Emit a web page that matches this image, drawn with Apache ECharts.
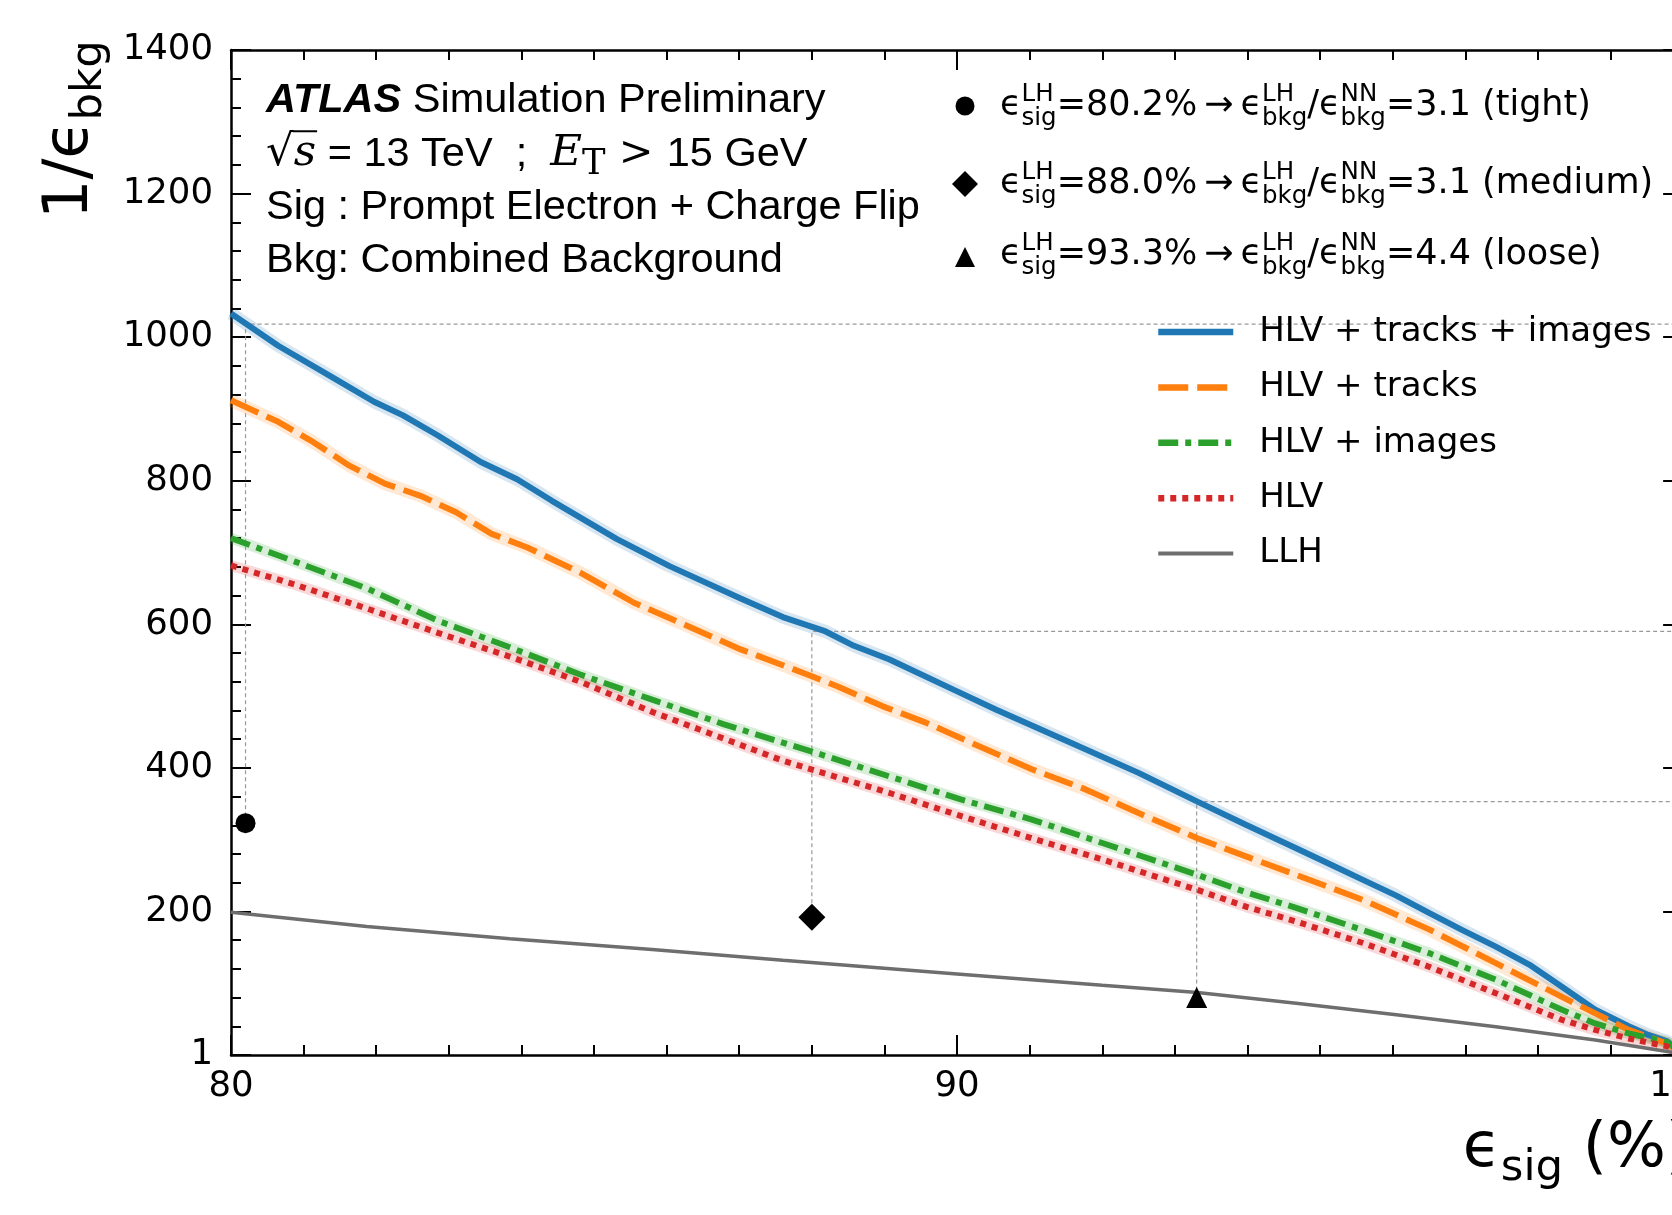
<!DOCTYPE html>
<html><head><meta charset="utf-8">
<script src="https://cdn.jsdelivr.net/npm/echarts@6/dist/echarts.min.js"></script>
<style>html,body{margin:0;padding:0;overflow:hidden;background:#fff}#c{width:1720px;height:1215px}</style>
</head><body><div id="c"></div>
<script>
// ---------------- data ----------------
const xTickValues = [80, 90, 100];
const yTickLabels = ['1', '200', '400', '600', '800', '1000', '1200', '1400'];

const effBlue = [80,80.65,81.38,81.97,82.37,82.85,83.44,83.94,84.42,85.31,86.04,87.02,87.6,88.19,88.58,89.07,89.95,90.54,91.52,92.5,93.31,93.97,94.67,95.13,95.59,96.05,96.5,96.96,97.42,97.88,98.33,98.79,99.25,99.52,99.78,100];
const rejBlue = [1033,988,945,910,891,863,826,802,772,719,681,636,610,590,570,551,509,481,437,393,353,321,288,266,244,222,198,174,151,126,95,63,40,28,19,1];

const effOrange = [80,80.65,81.13,81.63,82.12,82.61,83.1,83.59,84.08,84.81,85.55,86.28,87.02,87.6,87.99,88.34,88.97,89.57,90.35,91.03,91.77,92.5,93.31,93.97,94.67,95.59,96.5,97.42,98.33,98.79,99.25,99.78,100];
const rejOrange = [912,882,854,821,796,779,756,726,707,672,630,598,565,543,528,514,486,463,428,398,370,337,302,277,251,216,175,128,81,58,35,16,1];

const effGreen = [80,80.89,81.87,82.85,83.84,84.81,85.8,86.78,87.6,87.99,89.07,90.05,91.03,92.01,93.31,94.0,94.67,95.59,96.5,97.42,98.33,98.79,99.25,99.78,100];
const rejGreen = [720,687,650,605,568,530,495,461,435,423,388,356,328,295,251,226,205,174,142,105,63,44,30,18,1];

const effRed = [80,80.89,81.87,82.85,83.84,84.81,85.8,86.78,87.6,87.99,89.07,90.05,91.03,92.01,93.31,94.0,94.67,95.59,96.5,97.42,98.33,98.79,99.25,99.78,100];
const rejRed = [682,655,622,588,555,520,478,441,410,398,365,333,302,272,230,206,186,156,123,86,49,35,23,12,1];

const effLLH = [80,81.87,83.84,85.8,87.6,90,92,93.31,94.67,96.05,97.42,98.79,99.78,100];
const rejLLH = [199,179,162,147,132,113,97,87,72,56,39.5,21,5,1];

const seriesNames = ['HLV + tracks + images', 'HLV + tracks', 'HLV + images', 'HLV', 'LLH'];

// working points of the likelihood
const wpEff = [80.2, 88.0, 93.3];
const wpRej = [323, 192, 80];
const wpNN = [1018, 590, 353];
const wpSymbols = ['circle', 'diamond', 'triangle'];
const wpEffText = ['80.2', '88.0', '93.3'];
const wpRatioText = ['3.1', '3.1', '4.4'];
const wpNames = ['tight', 'medium', 'loose'];

const annotLines = ['Simulation Preliminary', 'Sig : Prompt Electron + Charge Flip', 'Bkg: Combined Background'];

// ---------------- styles ----------------
const FONT = 'DejaVu Sans';
const HELV = 'Liberation Sans';
const SERIF = 'DejaVu Serif';
const colors = ['#1f77b4', '#ff7f0e', '#2ca02c', '#d62728', '#6e6e6e'];
const dashes = ['solid', [30, 9], [20, 7, 6, 7], [6, 6], 'solid'];
const widths = [6, 6, 6, 6, 3.5];

const pairs = (xs, ys) => xs.map((x, i) => [x, ys[i]]);
const curveData = [pairs(effBlue, rejBlue), pairs(effOrange, rejOrange), pairs(effGreen, rejGreen), pairs(effRed, rejRed), pairs(effLLH, rejLLH)];

// ---------------- math-ish text layout helper ----------------
const mctx = document.createElement('canvas').getContext('2d');
function measure(p) {
  mctx.font = `${p.st} ${p.wt} ${p.size}px "${p.fam}"`;
  return mctx.measureText(p.t).width;
}
function buildRow(pieces, F, fam, x0, yMid, align) {
  const norm = p => Object.assign({ size: F, fam: fam, st: 'normal', wt: 'normal', dy: 0 }, p);
  const items = pieces.map(p => p.stack ? { stack: p.stack.map(norm) } : norm(p));
  const ws = items.map(it => it.stack ? Math.max(...it.stack.map(measure)) : measure(it));
  const total = ws.reduce((a, b) => a + b, 0);
  let x = align === 'right' ? x0 - total : x0;
  const els = [], xs = [];
  items.forEach((it, i) => {
    xs.push(x);
    (it.stack || [it]).forEach(p => {
      els.push({
        type: 'text', x: x, y: yMid + 0.35 * (F - p.size) + p.dy, silent: true, z: 50,
        style: { text: p.t, fontSize: p.size, fontFamily: p.fam, fontStyle: p.st, fontWeight: p.wt, fill: '#000', align: 'left', verticalAlign: 'middle' }
      });
    });
    x += ws[i];
  });
  xs.push(x);
  return { els, xs, total };
}

const graphics = [];
// top-left annotation
const AF = 41.5, AX = 266;
const annotY = [101, 154.5, 208, 261];
let r = buildRow([{ t: 'ATLAS', st: 'italic', wt: 'bold' }, { t: ' ' + annotLines[0] }], AF, HELV, AX, annotY[0]);
graphics.push(...r.els);
r = buildRow([
  { t: '√', fam: SERIF, size: AF * 1.05 },
  { t: 's', fam: SERIF, st: 'italic', size: AF * 1.05 },
  { t: ' = 13 TeV  ;  ' },
  { t: 'E', fam: SERIF, st: 'italic', size: AF * 1.05 },
  { t: 'T', fam: SERIF, size: AF * 0.85, dy: AF * 0.2 },
  { t: ' > ', fam: SERIF },
  { t: '15 GeV' }
], AF, HELV, AX, annotY[1]);
graphics.push(...r.els);
graphics.push({ type: 'line', silent: true, z: 50, shape: { x1: r.xs[1] - 1, y1: annotY[1] - AF * 0.56, x2: r.xs[2] + 1, y2: annotY[1] - AF * 0.56 }, style: { stroke: '#000', lineWidth: 2 } });
r = buildRow([{ t: annotLines[1] }], AF, HELV, AX, annotY[2]); graphics.push(...r.els);
r = buildRow([{ t: annotLines[2] }], AF, HELV, AX, annotY[3]); graphics.push(...r.els);

// working-point legend (top right)
const WF = 35, WX = 1000, WMX = 965;
const wpRowY = [106, 184, 255];
const sup = t => ({ t, size: WF * 0.7, dy: -WF * 0.42 });
const sub = t => ({ t, size: WF * 0.7, dy: WF * 0.25 });
wpNames.forEach((nm, i) => {
  const rr = buildRow([
    { t: 'ϵ' }, { stack: [sup('LH'), sub('sig')] }, { t: '=' + wpEffText[i] + '%\u2009→\u2009' },
    { t: 'ϵ' }, { stack: [sup('LH'), sub('bkg')] }, { t: '/' },
    { t: 'ϵ' }, { stack: [sup('NN'), sub('bkg')] }, { t: '=' + wpRatioText[i] + ' (' + nm + ')' }
  ], WF, FONT, WX, wpRowY[i]);
  graphics.push(...rr.els);
});
const my = [106, 184, 257];
graphics.push({ type: 'circle', silent: true, z: 50, shape: { cx: WMX, cy: my[0], r: 9.5 }, style: { fill: '#000' } });
graphics.push({ type: 'polygon', silent: true, z: 50, shape: { points: [[WMX, my[1] - 13], [WMX + 13, my[1]], [WMX, my[1] + 13], [WMX - 13, my[1]]] }, style: { fill: '#000' } });
graphics.push({ type: 'polygon', silent: true, z: 50, shape: { points: [[WMX, my[2] - 10], [WMX + 10, my[2] + 10], [WMX - 10, my[2] + 10]] }, style: { fill: '#000' } });

// axis titles
const TT = 62;
r = buildRow([{ t: '1/ϵ' }, { t: 'bkg', size: TT * 0.7, dy: TT * 0.2 }], TT, FONT, 0, 0);
graphics.push({ type: 'group', x: 71, y: 219, rotation: Math.PI / 2, children: r.els });
r = buildRow([{ t: 'ϵ' }, { t: 'sig', size: TT * 0.7, dy: TT * 0.2 }, { t: ' (%)' }], TT, FONT, 1690, 1150, 'right');
graphics.push(...r.els);

// ---------------- chart ----------------
const axisBase = {
  type: 'value',
  axisLine: { show: true, onZero: false, lineStyle: { color: '#000', width: 2.5 } },
  axisTick: { show: true, inside: true, length: 20, lineStyle: { color: '#000', width: 2 } },
  minorTick: { show: true, length: 10, lineStyle: { color: '#000', width: 2 } },
  splitLine: { show: false }, minorSplitLine: { show: false }
};
const xAx = (pos, show) => Object.assign({}, axisBase, {
  position: pos, min: xTickValues[0], max: xTickValues[xTickValues.length - 1], interval: 10,
  minorTick: Object.assign({}, axisBase.minorTick, { splitNumber: 10 }),
  axisLabel: { show: show, margin: 14, fontFamily: FONT, fontSize: 35.5, color: '#000' }
});
const yAx = (pos, show) => Object.assign({}, axisBase, {
  position: pos, min: 0, max: 1400, interval: 200,
  minorTick: Object.assign({}, axisBase.minorTick, { splitNumber: 5 }),
  axisLabel: { show: show, margin: 18, fontFamily: FONT, fontSize: 35.5, color: '#000', formatter: v => yTickLabels[Math.round(v / 200)] }
});

const series = [];
// light uncertainty bands
[0, 1, 2, 3].forEach(i => {
  series.push({
    type: 'line', name: 'band' + i, data: curveData[i], symbol: 'none', silent: true, z: 1,
    lineStyle: { color: colors[i], width: i < 2 ? 13 : 11, opacity: 0.18 }
  });
});
// working point guide lines
wpEff.forEach((x, i) => {
  series.push({
    type: 'line', name: 'guide' + i, data: [[x, wpRej[i]], [x, wpNN[i]], [100, wpNN[i]]], symbol: 'none', silent: true, z: 1,
    lineStyle: { color: '#999', width: 1.2, type: [4, 3] }
  });
});
// curves
seriesNames.forEach((nm, i) => {
  series.push({
    type: 'line', name: nm, data: curveData[i], symbol: 'none', showSymbol: false, z: 3 + i * 0.1,
    lineStyle: { color: colors[i], width: widths[i], type: dashes[i], cap: 'butt' }, itemStyle: { color: colors[i] }
  });
});
// working point markers
wpEff.forEach((x, i) => {
  series.push({
    type: 'scatter', name: 'wp' + i, data: [[x, wpRej[i]]], symbol: wpSymbols[i], symbolSize: [20, 27, 21][i], z: 5,
    itemStyle: { color: '#000', opacity: 1 }, silent: true
  });
});

const chart = echarts.init(document.getElementById('c'), null, { renderer: 'canvas' });
chart.setOption({
  animation: false,
  backgroundColor: '#fff',
  grid: { left: 231, top: 50, width: 1460, height: 1005 },
  xAxis: [xAx('bottom', true), xAx('top', false)],
  yAxis: [yAx('left', true), yAx('right', false)],
  legend: {
    orient: 'vertical', left: 1150, top: 307, itemWidth: 75, itemHeight: 1, itemGap: 15.4, selectedMode: false,
    data: seriesNames.map((n, i) => ({ name: n, lineStyle: { width: widths[i] + 0.5 } })),
    textStyle: { fontFamily: FONT, fontSize: 34, color: '#000', lineHeight: 40, padding: [0, 0, 0, 21] }
  },
  series: series,
  graphic: graphics
});
</script></body></html>
